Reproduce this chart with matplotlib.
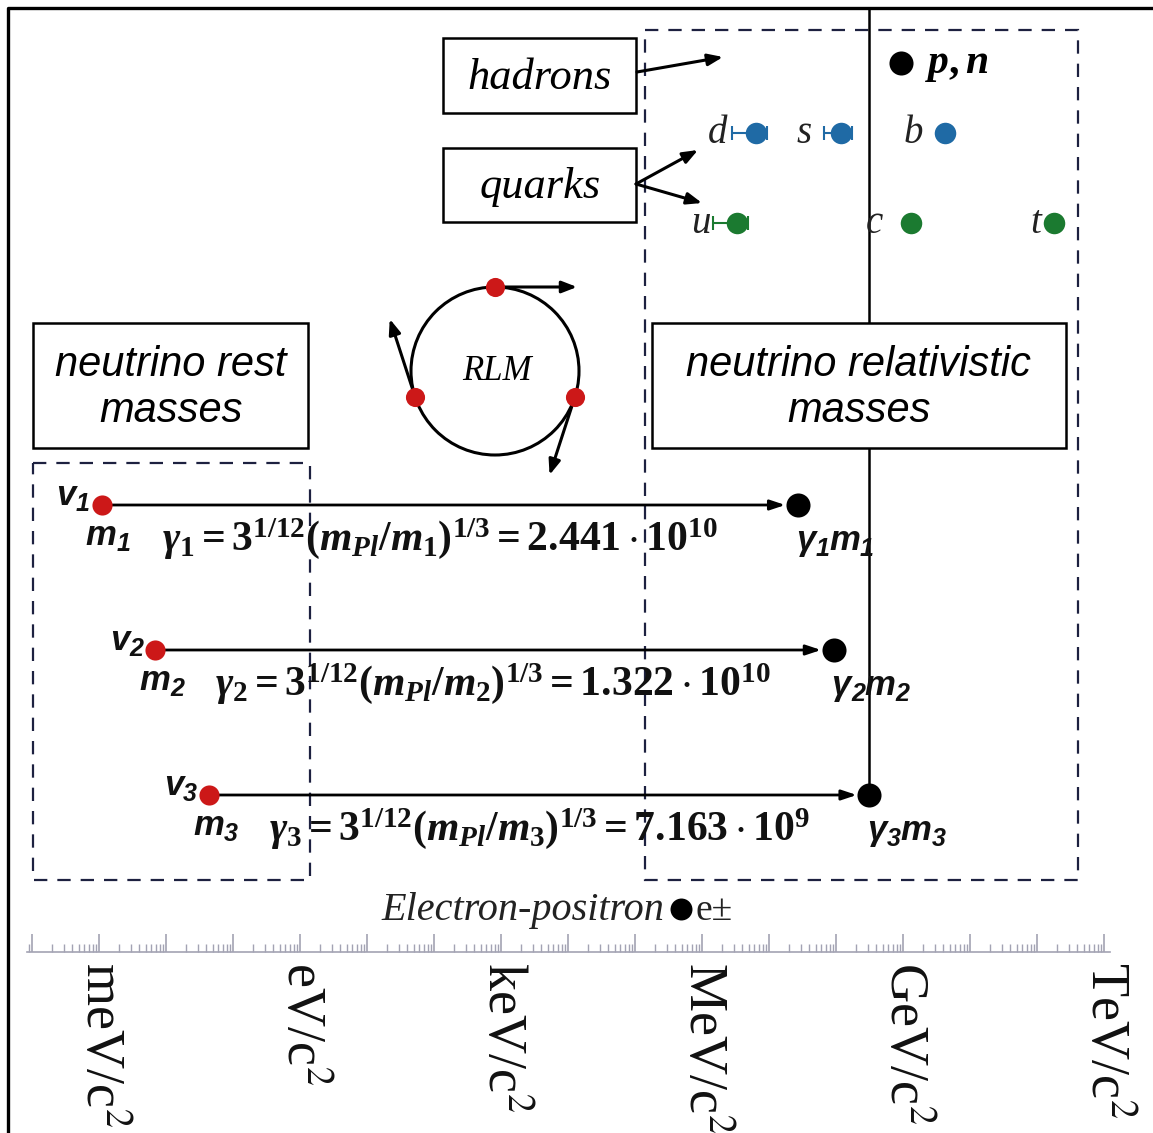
import numpy as np
import matplotlib.pyplot as plt
from matplotlib.patches import Rectangle, Circle
from matplotlib.ticker import LogLocator, FuncFormatter

plt.rcParams['font.family'] = ['Liberation Serif', 'DejaVu Serif']
plt.rcParams['mathtext.fontset'] = 'stix'
# "custom" mathtext -> bold serif for the gamma formulas
plt.rcParams['mathtext.it'] = 'Liberation Serif:italic:bold'
plt.rcParams['mathtext.rm'] = 'Liberation Serif:bold'
plt.rcParams['mathtext.bf'] = 'Liberation Serif:bold'
plt.rcParams['mathtext.fallback'] = 'stix'

SANS = ['Liberation Sans', 'DejaVu Sans']

# ---------------- data (masses in eV/c^2) ----------------
nu_mass = [1.1e-3, 6.95e-3, 4.37e-2]          # m1, m2, m3
nu_gamma = [2.441e10, 1.322e10, 7.163e9]      # gamma1..3
nu_gamma_txt = ['2.441\\cdot10^{10}', '1.322\\cdot10^{10}', '7.163\\cdot10^{9}']
nu_row = [505, 650, 795]

quark_names = ['d', 's', 'b', 'u', 'c', 't']
quark_mass = [6.5e6, 1.2e8, 4.3e9, 3.3e6, 1.3e9, 1.8e11]
quark_err_lo = [3.7e6, 0.53e8, 0, 1.86e6, 0, 0]
quark_err_hi = [2.9e6, 0.54e8, 0, 1.5e6, 0, 0]
quark_row = [133, 133, 133, 223, 223, 223]
quark_color = ['#1f6aa5'] * 3 + ['#1b7a30'] * 3
quark_lbl_dx = [-29, -30, -22, -26, -28, -13]

hadron_mass = 9.4e8      # p, n
hadron_row = 63
electron_mass = 4.9e5    # e+-
electron_row = 909

unit_exp = [-3, 0, 3, 6, 9, 12]
unit_names = ['meV', 'eV', 'keV', 'MeV', 'GeV', 'TeV']

# ---------------- figure ----------------
W, H = 1153, 1133
PX0, PXD = 300, 67.0     # pixel of 1 eV, pixels per decade


def px2ev(px):
    return 10 ** ((px - PX0) / PXD)


fig = plt.figure(figsize=(W / 100, H / 100), dpi=100)
ov = fig.add_axes([0, 0, 1, 1])
ov.set_xlim(0, W)
ov.set_ylim(H, 0)
ov.axis('off')
P = ov.transData   # pixel-like layout coordinates

ax = fig.add_axes([0, 0, 1, 1])
ax.set_xscale('log')
ax.set_xlim(px2ev(0), px2ev(W))
ax.set_ylim(H, 0)
ax.axis('off')
renderer = fig.canvas.get_renderer()


def sub_label(x0, y0, pieces, size=25, ha='left'):
    # bold italic sans text with real-size subscripts, baseline at y0 (layout px)
    texts, x = [], x0
    for s, is_sub in pieces:
        t = ax.text(x, y0 + (6 if is_sub else 0), s, transform=P,
                    fontsize=size * 0.72 if is_sub else size, family=SANS,
                    style='italic', weight='bold', va='baseline', ha='left',
                    color='#111', zorder=6)
        x += t.get_window_extent(renderer).width
        texts.append(t)
    if ha == 'right':
        for t in texts:
            t.set_x(t.get_position()[0] - (x - x0))


def xpix(v):
    return ax.transData.transform((v, 0))[0]


# frame
ax.plot([8, 8, W], [H, 8, 8], color='k', lw=2.4, transform=P, zorder=1)

# dashed regions
dash = dict(fill=False, ec='#1d2140', lw=1.6, ls=(0, (6, 4.5)), transform=P, zorder=1)
ax.add_patch(Rectangle((645, 30), 433, 850, **dash))
ax.add_patch(Rectangle((33, 463), 277, 417, **dash))

# GeV line up from gamma3*m3
g3m3 = nu_mass[2] * nu_gamma[2]
ax.plot([g3m3, g3m3], [nu_row[2], 8], color='k', lw=1.8, zorder=2)

# label boxes
box = dict(fc='white', ec='k', lw=1.8, transform=P, zorder=3)
ax.add_patch(Rectangle((443, 38), 193, 75, **box))
ax.add_patch(Rectangle((443, 148), 193, 74, **box))
ax.add_patch(Rectangle((33, 323), 275, 125, **box))
ax.add_patch(Rectangle((652, 323), 414, 125, **box))

ax.text(540, 78, 'hadrons', transform=P, ha='center', va='center',
        fontsize=32, style='italic', zorder=4)
ax.text(540, 187, 'quarks', transform=P, ha='center', va='center',
        fontsize=32, style='italic', zorder=4)
ax.text(171, 388, 'neutrino rest\nmasses', transform=P, ha='center', va='center',
        fontsize=30, style='italic', family=SANS, linespacing=1.22, zorder=4)
ax.text(859, 388, 'neutrino relativistic\nmasses', transform=P, ha='center', va='center',
        fontsize=30, style='italic', family=SANS, linespacing=1.22, zorder=4)

arr = dict(arrowstyle='-|>,head_length=0.9,head_width=0.35', color='k', lw=2.2,
           shrinkA=0, shrinkB=0)
for tail, head in [((637, 72), (723, 57)), ((636, 184), (698, 150)), ((636, 184), (702, 203))]:
    ax.annotate('', xy=head, xytext=tail, xycoords=P, textcoords=P, arrowprops=arr, zorder=4)

# RLM circle
cx, cy, r = 495, 371, 84
ax.add_patch(Circle((cx, cy), r, fill=False, ec='k', lw=2.2, transform=P, zorder=3))
ax.text(cx + 2, cy, 'RLM', transform=P, ha='center', va='center', fontsize=25,
        style='italic', zorder=4)
for ang in [90, 198, -18]:
    t = np.radians(ang)
    px, py = cx + r * np.cos(t), cy - r * np.sin(t)
    tx, ty = np.sin(t), np.cos(t)      # clockwise tangent (screen y down)
    ax.annotate('', xy=(px + 82 * tx, py + 82 * ty), xytext=(px, py), xycoords=P,
                textcoords=P, arrowprops=arr, zorder=4)
    ax.scatter([px], [py], s=190, color='#cc1818', transform=P, zorder=5, lw=0)

# neutrino rows
nu_rel = [m * g for m, g in zip(nu_mass, nu_gamma)]
for i, (m, gm, y) in enumerate(zip(nu_mass, nu_rel, nu_row)):
    k = str(i + 1)
    ax.annotate('', xy=(gm, y), xytext=(m, y),
                arrowprops=dict(arrowstyle='-|>,head_length=0.9,head_width=0.3', color='k',
                                lw=2.0, shrinkA=5, shrinkB=9), zorder=4)
    sub_label(xpix(m) - 12, y, [('v', False), (k, True)], ha='right')
    sub_label(xpix(m) - 16, y + 40, [('m', False), (k, True)])
    sub_label(xpix(gm) - 2, y + 45, [('\u03b3', False), (k, True), ('m', False), (k, True)])
    ax.annotate(r'$\gamma_{%s} = 3^{1/12}(m_{Pl}/m_{%s})^{1/3} = %s$'
                % (k, k, nu_gamma_txt[i]),
                xy=(m, y), xytext=(60, -45), textcoords='offset pixels',
                ha='left', va='baseline', fontsize=30, math_fontfamily='custom',
                color='#111', zorder=6)
ax.scatter(nu_mass, nu_row, s=210, color='#cc1818', zorder=5, lw=0)
ax.scatter(nu_rel, nu_row, s=300, color='k', zorder=5, lw=0)

# quarks
for n, m, lo, hi, y, c, dx in zip(quark_names, quark_mass, quark_err_lo, quark_err_hi,
                                  quark_row, quark_color, quark_lbl_dx):
    if lo > 0:
        ax.errorbar([m], [y], xerr=[[lo], [hi]], fmt='none', ecolor=c, elinewidth=1.5,
                    capsize=5, capthick=1.5, zorder=4)
    ax.scatter([m], [y], s=240, color=c, zorder=5, lw=0)
    ax.annotate(n, xy=(m, y), xytext=(dx, -10), textcoords='offset pixels', ha='right',
                va='baseline', fontsize=28, style='italic', color='#222', zorder=6)

# hadrons p, n
ax.scatter([hadron_mass], [hadron_row], s=300, color='k', zorder=5, lw=0)
ax.annotate(r'$p, n$', xy=(hadron_mass, hadron_row), xytext=(24, -10),
            textcoords='offset pixels', ha='left', va='baseline', fontsize=30,
            math_fontfamily='custom', zorder=6)

# electron-positron
ax.scatter([electron_mass], [electron_row], s=250, color='k', zorder=5, lw=0)
ax.annotate('Electron-positron', xy=(electron_mass, electron_row), xytext=(-17, -11),
            textcoords='offset pixels', ha='right', va='baseline', fontsize=29,
            style='italic', color='#222', zorder=6)
ax.annotate('e±', xy=(electron_mass, electron_row), xytext=(14, -11),
            textcoords='offset pixels', ha='left', va='baseline', fontsize=27,
            color='#222', zorder=6)

# energy ruler
x_l, x_r, y_line = 27, 1110, 952
rl = fig.add_axes([x_l / W, 1 - y_line / H, (x_r - x_l) / W, 0.02])
rl.set_xscale('log')
rl.set_xlim(px2ev(x_l), px2ev(x_r))
rl.patch.set_alpha(0)
for s in ['top', 'left', 'right']:
    rl.spines[s].set_visible(False)
rl.spines['bottom'].set_color('#a3a3b3')
rl.spines['bottom'].set_linewidth(1.2)
rl.set_yticks([])
rl.xaxis.set_major_locator(LogLocator(base=10, numticks=40))
rl.xaxis.set_minor_locator(LogLocator(base=10, subs=np.arange(2, 10), numticks=40))
units = {e: n + '/c$^2$' for e, n in zip(unit_exp, unit_names)}
rl.xaxis.set_major_formatter(FuncFormatter(lambda v, p: units.get(int(round(np.log10(v))), '')))
rl.xaxis.set_minor_formatter(FuncFormatter(lambda v, p: ''))
rl.tick_params(axis='x', which='major', direction='in', length=13, width=1.2,
               color='#a3a3b3', labelsize=39, pad=7, labelrotation=-90, labelcolor='#111')
rl.tick_params(axis='x', which='minor', direction='in', length=6, width=1.0, color='#a3a3b3')

fig.savefig('out.png', dpi=100)
